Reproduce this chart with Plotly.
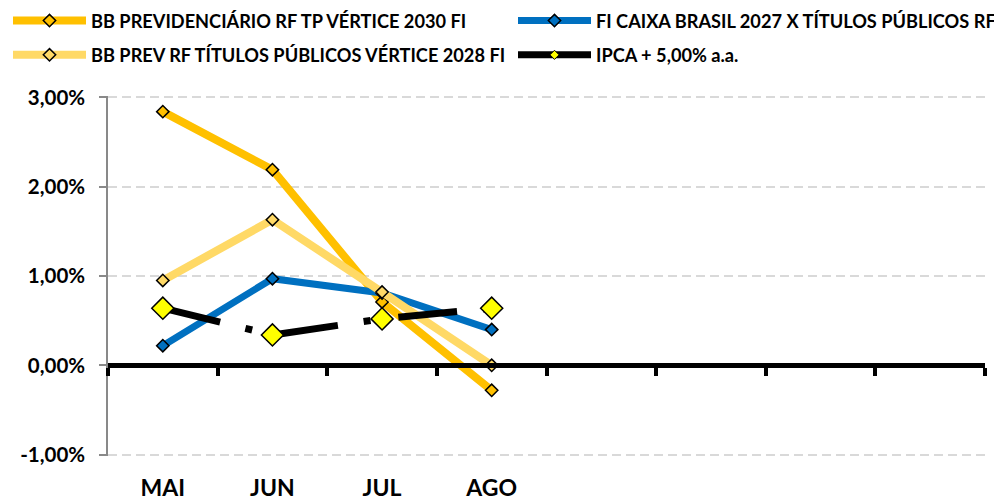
import plotly.graph_objects as go

# months on the x axis (only first four have data / labels)
months = ["MAI", "JUN", "JUL", "AGO", "", "", "", ""]

# monthly returns, %
bb_2030 = [2.84, 2.19, 0.71, -0.28]
caixa_2027 = [0.22, 0.97, 0.81, 0.40]
bb_2028 = [0.95, 1.63, 0.82, 0.00]
ipca = [0.64, 0.34, 0.52, 0.64]

y_ticks = [-1, 0, 1, 2, 3]

FONT = "Lato, 'Noto Sans', sans-serif"
W, H = 994, 492  # page body has an 8px margin, so keep the figure inside the window
x_pos = list(range(len(months)))
x_range = [-0.5, len(months) - 0.5]

fig = go.Figure()


def add_series(name, vals, color, legend, lw=8, msize=9.5, mcolor=None, dash=None, showlegend=True):
    fig.add_trace(go.Scatter(
        x=x_pos[:len(vals)],
        y=vals,
        name=name,
        mode='lines+markers',
        line=dict(color=color, width=lw, dash=dash),
        marker=dict(symbol='diamond', size=msize, color=mcolor or color,
                    line=dict(color='black', width=1.5)),
        legend=legend,
        showlegend=showlegend,
    ))


add_series("BB PREVIDENCIÁRIO RF TP VÉRTICE 2030 FI", bb_2030, '#FFC000', 'legend')
add_series("FI CAIXA BRASIL 2027 X TÍTULOS PÚBLICOS RF", caixa_2027, '#0070C0', 'legend3', lw=7)
add_series("BB PREV RF TÍTULOS PÚBLICOS VÉRTICE 2028 FI", bb_2028, '#FFD966', 'legend2')
add_series("IPCA + 5,00% a.a.", ipca, 'black', 'legend4', lw=7, msize=17,
           mcolor='#FFFF00', dash='59px,26px,7px,28px', showlegend=False)

# legend-only entry for IPCA (small marker, solid line as in the original key)
fig.add_trace(go.Scatter(
    x=[None], y=[None], name="IPCA + 5,00% a.a.", mode='lines+markers',
    line=dict(color='black', width=7),
    marker=dict(symbol='diamond', size=7, color='#FFFF00', line=dict(color='black', width=1)),
    legend='legend4', hoverinfo='skip',
))

# helper trace so the zero-line axis (x2) is drawn
fig.add_trace(go.Scatter(x=[None], y=[None], xaxis='x2', showlegend=False, hoverinfo='skip'))

col1, col2 = -4 / W, 505 / W
row1, row2 = 1 - 12.7 / H, 1 - 47 / H


def leg(x, y):
    return dict(
        orientation='h',
        xref='container', yref='container',
        x=x, y=y, xanchor='left', yanchor='middle',
        font=dict(family=FONT, size=18.2, color='black', weight='bold'),
        itemwidth=73,
        bgcolor='rgba(0,0,0,0)',
        itemclick=False,
    )


fig.update_layout(
    width=W,
    height=H,
    margin=dict(l=100, r=17, t=88, b=44, autoexpand=False),
    plot_bgcolor='white',
    paper_bgcolor='white',
    separators=',.',
    showlegend=True,
    legend=leg(col1, row1),
    legend2=leg(col1, row2),
    legend3=leg(col2, row1),
    legend4=leg(col2, row2),
    xaxis=dict(
        range=x_range,
        tickmode='array',
        tickvals=x_pos,
        ticktext=months,
        ticks='',
        ticklabelstandoff=16,
        tickfont=dict(family=FONT, size=23, color='black', weight='bold'),
        showline=False,
        showgrid=False,
        zeroline=False,
    ),
    xaxis2=dict(
        range=x_range,
        overlaying='x',
        anchor='free',
        position=1.015 / 4.03,
        showline=True,
        linecolor='black',
        linewidth=5,
        tickmode='array',
        tickvals=[i - 0.5 for i in range(len(months) + 1)],
        showticklabels=False,
        ticks='outside',
        ticklen=8,
        tickwidth=4,
        tickcolor='black',
        showgrid=False,
        zeroline=False,
    ),
    yaxis=dict(
        range=[-1.015, 3.015],
        tickmode='array',
        tickvals=y_ticks,
        ticktext=[f"{v:.2f}%".replace('.', ',') for v in y_ticks],
        showline=True,
        linecolor='#898989',
        linewidth=1.5,
        ticks='outside',
        ticklen=7,
        tickwidth=1.5,
        tickcolor='#898989',
        ticklabelstandoff=10,
        tickfont=dict(family=FONT, size=20.5, color='black', weight='bold'),
        showgrid=True,
        gridcolor='#D9D9D9',
        gridwidth=1.5,
        griddash='9px,5px',
        zeroline=False,
    ),
)

fig.write_html("out.html")
